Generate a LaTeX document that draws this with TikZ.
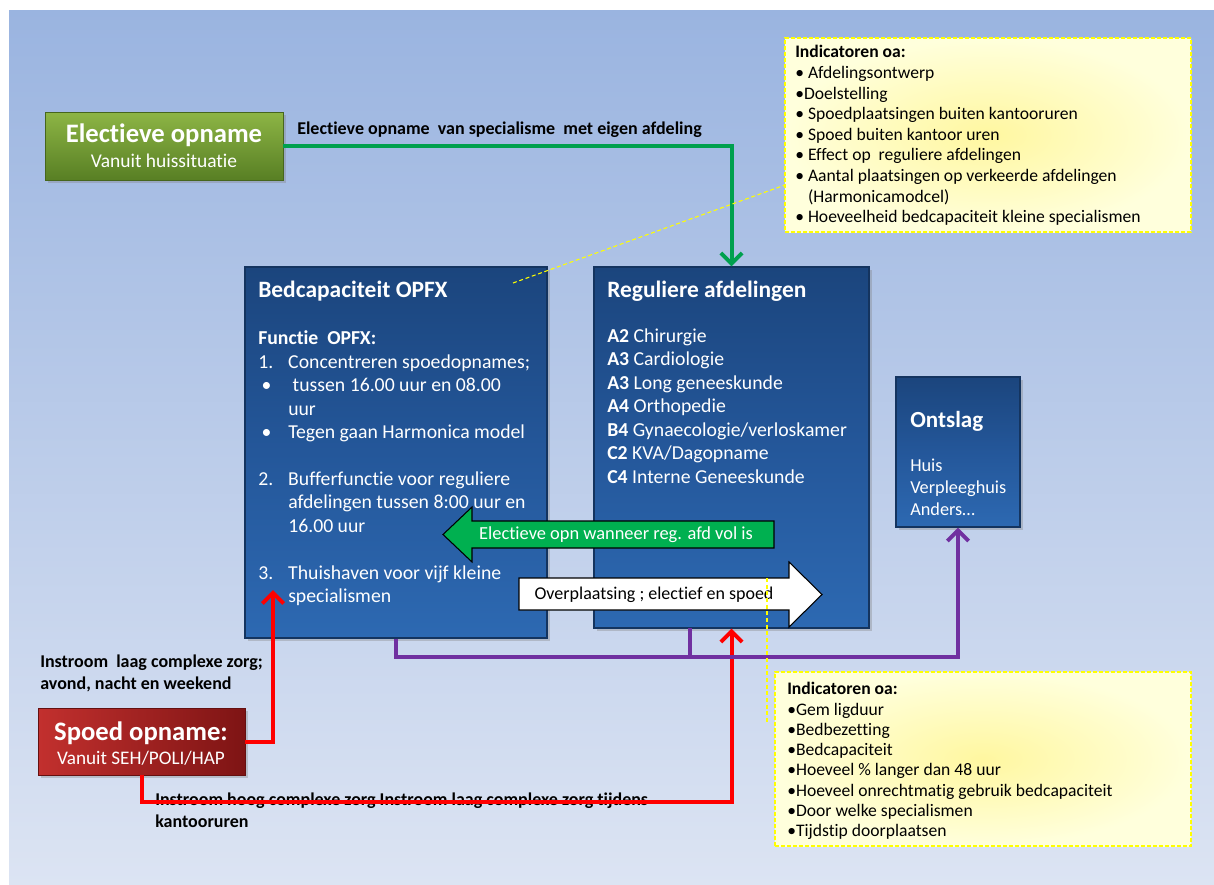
\documentclass[tikz,border=0pt]{standalone}
\usepackage{fontspec}
\setmainfont{Carlito}[Ligatures=NoCommon]
\usetikzlibrary{arrows.meta,shadows}
\definecolor{bgtop}{HTML}{9AB4E0}
\definecolor{bgbot}{HTML}{DCE4F3}
\definecolor{lgreen}{HTML}{00A04E}
\definecolor{lpurple}{HTML}{7030A0}
\definecolor{lred}{HTML}{FF0000}
\definecolor{bxtop}{HTML}{1B457D}
\definecolor{bxmid}{HTML}{24579A}
\definecolor{bxbot}{HTML}{2D69B2}
\definecolor{bxedge}{HTML}{14345F}
\definecolor{gtop}{HTML}{8DB545}
\definecolor{gbot}{HTML}{587F24}
\definecolor{rtop}{HTML}{C2302E}
\definecolor{rbot}{HTML}{7E1414}
\definecolor{ylin}{HTML}{FFFF00}
\definecolor{yelin}{HTML}{FFF7A0}
\definecolor{yelout}{HTML}{FFFFDC}
\definecolor{arrgreen}{HTML}{00B050}
\tikzset{
  bluebox/.style={rectangle, inner sep=0pt, draw=bxedge, line width=0.8pt,
    top color=bxtop, bottom color=bxbot, middle color=bxmid,
    drop shadow={opacity=0.35, shadow xshift=2pt, shadow yshift=-2pt}},
  greenbox/.style={rectangle, inner sep=0pt, draw=gbot!80!black, line width=0.6pt,
    top color=gtop, bottom color=gbot,
    drop shadow={opacity=0.35, shadow xshift=2pt, shadow yshift=-2pt}},
  redbox/.style={rectangle, inner sep=0pt, draw=rbot!80!black, line width=0.6pt,
    left color=rtop, right color=rbot,
    drop shadow={opacity=0.35, shadow xshift=2pt, shadow yshift=-2pt}},
  yelbox/.style={rectangle, inner sep=0pt, draw=ylin, line width=1pt,
    dash pattern=on 3pt off 1.5pt, inner color=yelin, outer color=yelout},
  callout/.style={draw=ylin, line width=0.8pt, dash pattern=on 3pt off 2pt},
  conn/.style={line width=3pt, -{Straight Barb[length=8pt,width=16pt]}},
  wtxt/.style={inner sep=0pt, text=white, align=left, anchor=north west},
  btxt/.style={inner sep=0pt, text=black, align=left, anchor=north west},
  lbl/.style={inner sep=0pt, align=left, font=\bfseries\fontsize{13.5}{16.5}\selectfont},
  blockarrow/.style={draw=black, line width=0.8pt},
}
\begin{document}
\begin{tikzpicture}[x=0.75pt,y=-0.75pt]
\useasboundingbox (0,0) rectangle (1214,885);
\fill[top color=bgtop, bottom color=bgbot] (9,10) rectangle (1214,885);

% boxes
\node[greenbox, minimum width=178.5pt, minimum height=51pt] (elect) at (164,146) {};
\node[redbox, minimum width=155.25pt, minimum height=50.25pt] (spoed) at (141.5,741.5) {};
\node[bluebox, minimum width=226.5pt, minimum height=278.25pt] (bed) at (396,452.5) {};
\node[bluebox, minimum width=206.25pt, minimum height=270.75pt] (reg) at (731.5,447.5) {};
\node[bluebox, minimum width=93pt, minimum height=112.5pt] (ontslag) at (958,452) {};
\node[yelbox, minimum width=304.5pt, minimum height=145.5pt] (ind1) at (988,135) {};
\node[yelbox, minimum width=312pt, minimum height=130.5pt] (ind2) at (983,759) {};

% texts in coloured boxes
\node[inner sep=0pt, anchor=base, text=white, font=\bfseries\fontsize{20}{24}\selectfont] (electT) at (164,142.5) {Electieve opname};
\node[inner sep=0pt, anchor=base, text=white, font=\fontsize{14.6}{18}\selectfont] (electS) at (164,167) {Vanuit huissituatie};
\node[inner sep=0pt, anchor=base, text=white, font=\bfseries\fontsize{20}{24}\selectfont] (spoedT) at (141,740.5) {Spoed opname:};
\node[inner sep=0pt, anchor=base, text=white, font=\fontsize{14.4}{18}\selectfont] (spoedS) at (141,764) {Vanuit SEH/POLI/HAP};

\node[inner sep=0pt, anchor=base west, text=white, font=\bfseries\fontsize{17.6}{22}\selectfont] (bedT) at (258,297.7) {Bedcapaciteit OPFX};
\node[wtxt, font=\fontsize{14.8}{17.6}\selectfont] (bedB) at (258,330.5) {%
\textbf{Functie\ \ OPFX:}\\
\makebox[22.5pt][l]{1.}Concentreren spoedopnames;\\
\makebox[22.5pt][l]{\,•}\ tussen 16.00 uur en 08.00\\
\hspace*{22.5pt}uur\\
\makebox[22.5pt][l]{\,•}Tegen gaan Harmonica model\\
\mbox{}\\
\makebox[22.5pt][l]{2.}Bufferfunctie voor reguliere\\
\hspace*{22.5pt}afdelingen tussen 8:00 uur en\\
\hspace*{22.5pt}16.00 uur\\
\mbox{}\\
\makebox[22.5pt][l]{3.}Thuishaven voor vijf kleine\\
\hspace*{22.5pt}specialismen};

\node[inner sep=0pt, anchor=base west, text=white, font=\bfseries\fontsize{17.6}{22}\selectfont] (regT) at (607,297.7) {Reguliere afdelingen};
\node[wtxt, font=\fontsize{14.8}{17.6}\selectfont] (regB) at (607,328.5) {%
\textbf{A2} Chirurgie\\
\textbf{A3} Cardiologie\\
\textbf{A3} Long geneeskunde\\
\textbf{A4} Orthopedie\\
\textbf{B4} Gynaecologie/verloskamer\\
\textbf{C2} KVA/Dagopname\\
\textbf{C4} Interne Geneeskunde};

\node[inner sep=0pt, anchor=base west, text=white, font=\bfseries\fontsize{17.3}{21}\selectfont] (ontT) at (910,427.4) {Ontslag};
\node[wtxt, font=\fontsize{13.7}{16.5}\selectfont] (ontB) at (910,459) {Huis\\Verpleeghuis\\Anders…};

% indicator texts
\node[btxt, font=\fontsize{13.2}{15.45}\selectfont] (ind1T) at (795,45.3) {%
\textbf{Indicatoren oa:}\\
• Afdelingsontwerp\\
•Doelstelling\\
• Spoedplaatsingen buiten kantooruren\\
• Spoed buiten kantoor uren\\
• Effect op\ \ reguliere afdelingen\\
• Aantal plaatsingen op verkeerde afdelingen\\
\phantom{• }(Harmonicamodcel)\\
• Hoeveelheid bedcapaciteit kleine specialismen};
\node[btxt, font=\fontsize{13.2}{15.2}\selectfont] (ind2T) at (787,682.3) {%
\textbf{Indicatoren oa:}\\
•Gem ligduur\\
•Bedbezetting\\
•Bedcapaciteit\\
•Hoeveel \% langer dan 48 uur\\
•Hoeveel onrechtmatig gebruik bedcapaciteit\\
•Door welke specialismen\\
•Tijdstip doorplaatsen};

% connector labels
\node[lbl, anchor=base west] (lblE) at (297,134.8) {Electieve opname\ \ van specialisme\ \ met eigen afdeling};
\node[lbl, anchor=north west] (lblL) at (40,655) {Instroom\ \ laag complexe zorg;\\avond, nacht en weekend};
\node[lbl, anchor=north west] (lblH) at (155,793) {Instroom hoog complexe zorg Instroom laag complexe zorg tijdens\\kantooruren};

% block arrows
\fill[arrgreen, blockarrow] (774,521) -- (472,521) -- (472,507) -- (443,534.5) -- (472,562) -- (472,548) -- (774,548) -- cycle;
\node[inner sep=0pt, anchor=base, text=white, font=\fontsize{13.8}{16}\selectfont] (gArr) at (616,539.9) {Electieve opn wanneer reg. afd vol is};
\fill[white, blockarrow] (519,578) -- (789,578) -- (789,562) -- (822,594.5) -- (789,627) -- (789,610) -- (519,610) -- cycle;
\node[inner sep=0pt, anchor=base, text=black, font=\fontsize{13.5}{16}\selectfont] (wArr) at (654,599.8) {Overplaatsing ; electief en spoed};

% connectors
\coordinate (r1end) at (273,590);
\coordinate (r2turn) at (731.5,802);
\coordinate (pturn) at (958,657);
\coordinate (pbranch) at (690,628);
\draw[conn, lgreen] (elect.east) -| (reg.north);
\draw[conn, lred] (spoed.east) -| (r1end);
\draw[conn, lred] (spoed.south) |- (r2turn) -- (reg.south);
\draw[conn, lpurple] (bed.south) |- (pturn) -- (ontslag.south);
\draw[line width=3pt, lpurple] (pbranch) -- (pbranch |- pturn);

% callout pointers
\coordinate (c1a) at (513,283);
\coordinate (c1b) at (785,185);
\coordinate (c2a) at (767,578);
\coordinate (c2b) at (767,722);
\draw[callout] (c1a) -- (c1b);
\draw[callout] (c2a) -- (c2b);
\end{tikzpicture}
\end{document}
